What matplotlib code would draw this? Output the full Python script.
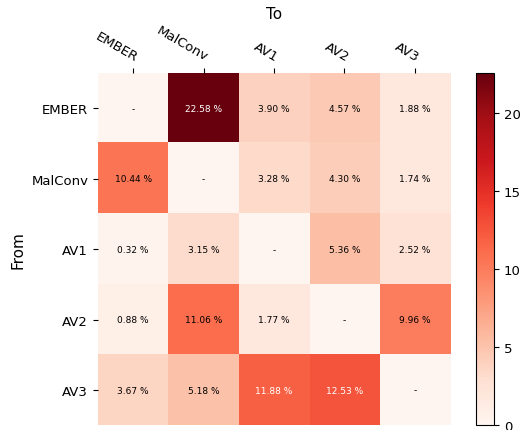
import numpy as np
import matplotlib
matplotlib.use("Agg")
import matplotlib.pyplot as plt

# Transfer rates (%) from source model (rows) to target model (columns)
models = ["EMBER", "MalConv", "AV1", "AV2", "AV3"]
ember = [0.0, 22.58, 3.90, 4.57, 1.88]
malconv = [10.44, 0.0, 3.28, 4.30, 1.74]
av1 = [0.32, 3.15, 0.0, 5.36, 2.52]
av2 = [0.88, 11.06, 1.77, 0.0, 9.96]
av3 = [3.67, 5.18, 11.88, 12.53, 0.0]

data = np.array([ember, malconv, av1, av2, av3])

fig = plt.figure(figsize=(5.26, 4.31), dpi=100)
ax = fig.add_axes([0.186, 0.011, 0.670, 0.817])
cax = fig.add_axes([0.905, 0.012, 0.034, 0.816])

im = ax.imshow(data, cmap="Reds", vmin=0, vmax=data.max())
cbar = fig.colorbar(im, cax=cax)
cbar.set_ticks([0, 5, 10, 15, 20])
cbar.ax.tick_params(labelsize=9.5)

ax.set_xticks(np.arange(len(models)))
ax.set_yticks(np.arange(len(models)))
ax.set_xticklabels(models, fontsize=9.5)
ax.set_yticklabels(models, fontsize=9.5)
ax.tick_params(top=True, bottom=False, labeltop=True, labelbottom=False)
plt.setp(ax.get_xticklabels(), rotation=-30, ha="right", rotation_mode="anchor")
for s in ax.spines.values():
    s.set_visible(False)

ax.set_xlabel("To", fontsize=11, labelpad=4)
ax.xaxis.set_label_position("top")
ax.set_ylabel("From", fontsize=11, labelpad=4)

threshold = data.max() / 2
for i in range(len(models)):
    for j in range(len(models)):
        if i == j:
            txt = "-"
        else:
            txt = "%.2f %%" % data[i, j]
        color = "white" if data[i, j] > threshold else "black"
        ax.text(j, i, txt, ha="center", va="center", color=color, fontsize=6.5)

fig.savefig("out.png", dpi=100)
